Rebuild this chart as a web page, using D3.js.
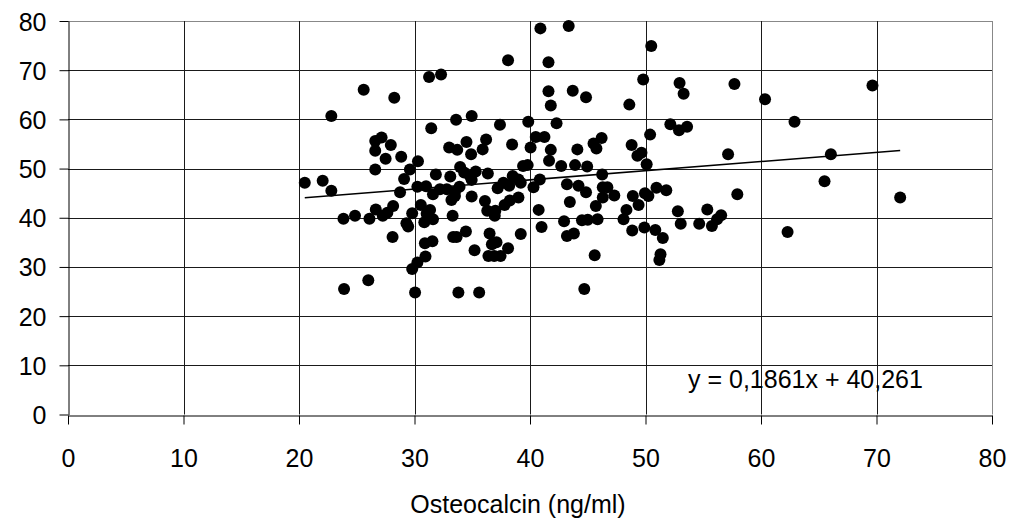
<!DOCTYPE html>
<html>
<head>
<meta charset="utf-8">
<script src="https://cdn.jsdelivr.net/npm/d3@7"></script>
<style>
  body { margin: 0; background: #fff; }
  text { font-family: "Liberation Sans", Arial, sans-serif; fill: #000; }
</style>
</head>
<body>
<svg id="chart" width="1010" height="519"></svg>
<script>
// osteocalcin (x) and the paired outcome value (y)
const osteocalcin = [
  20.5, 22.05, 22.8, 22.8, 23.85, 23.9, 24.85, 25.6, 26.0, 26.1,
  26.6, 26.6, 26.6, 26.65, 27.15, 27.25, 27.5, 27.65, 27.95, 28.1,
  28.15, 28.25, 28.75, 28.85, 29.1, 29.3, 29.45, 29.6, 29.8, 29.8,
  30.05, 30.25, 30.25, 30.3, 30.55, 30.85, 30.9, 30.95, 31.0, 31.05,
  31.26, 31.35, 31.45, 31.55, 31.6, 31.6, 31.85, 32.2, 32.3, 32.8,
  33.0, 33.1, 33.2, 33.3, 33.35, 33.5, 33.5, 33.6, 33.65, 33.7,
  33.8, 33.9, 33.95, 34.3, 34.45, 34.5, 34.9, 36.2, 35.9, 38.45,
  40.5, 41.25, 40.05, 41.8, 41.65, 44.1, 45.5, 46.2, 45.75, 48.8,
  49.3, 42.7, 43.9, 44.95, 39.4, 39.8, 34.8, 35.3, 36.35, 34.95,
  38.5, 39.0, 39.2, 37.7, 37.2, 38.2, 40.85, 40.3, 46.25, 43.2,
  44.2, 44.85, 46.3, 46.7, 46.3, 47.3, 48.9, 49.4, 48.35, 34.95,
  36.1, 37.8, 38.25, 39.0, 36.3, 37.0, 36.95, 43.45, 40.75, 45.7,
  42.95, 41.0, 44.5, 45.0, 45.85, 48.1, 48.85, 36.5, 39.2, 43.2,
  43.8, 36.7, 37.1, 35.2, 38.1, 36.4, 36.9, 37.45, 45.6, 35.6,
  44.7, 40.9, 43.35, 38.1, 41.6, 49.8, 41.6, 43.7, 44.85, 41.8,
  48.6, 34.95, 37.4, 39.85, 42.3, 50.5, 52.95, 53.3, 57.7, 60.35,
  62.9, 52.15, 52.9, 53.6, 50.4, 49.65, 50.1, 57.15, 50.95, 51.8,
  49.95, 50.25, 57.95, 52.8, 55.35, 53.05, 54.65, 55.75, 56.2, 56.55,
  49.9, 50.85, 51.5, 51.3, 51.2, 62.3, 69.65, 66.05, 65.5, 72.05
];
const outcome = [
  47.1, 47.5, 60.7, 45.5, 39.8, 25.5, 40.4, 66.0, 27.3, 39.8,
  55.6, 53.6, 49.8, 41.7, 56.3, 40.4, 52.0, 41.0, 54.8, 36.1,
  42.4, 64.4, 45.2, 52.4, 47.9, 38.9, 38.2, 49.8, 40.9, 29.6,
  24.8, 30.9, 46.3, 51.5, 42.6, 39.1, 34.8, 32.1, 46.4, 40.8,
  68.6, 41.6, 58.2, 35.2, 44.8, 39.7, 48.8, 45.8, 69.1, 45.8,
  54.3, 48.4, 43.6, 40.4, 36.1, 44.4, 45.3, 59.9, 36.1, 53.8,
  24.8, 46.3, 50.3, 49.2, 37.2, 55.4, 52.9, 55.9, 53.9, 54.9,
  56.4, 56.4, 54.3, 53.8, 51.6, 53.9, 55.1, 56.2, 54.1, 54.8,
  52.6, 50.5, 50.7, 50.4, 50.5, 50.7, 48.5, 49.4, 49.0, 47.7,
  48.5, 47.8, 47.1, 47.1, 46.0, 46.5, 47.8, 46.2, 48.8, 46.8,
  46.5, 45.2, 46.2, 46.2, 44.1, 44.5, 44.4, 42.6, 41.6, 44.3,
  43.4, 42.6, 43.5, 44.1, 41.4, 41.4, 40.4, 43.2, 41.6, 42.4,
  39.3, 38.1, 39.5, 39.6, 39.7, 39.7, 37.4, 36.8, 36.7, 36.3,
  36.8, 34.6, 35.0, 33.4, 33.8, 32.2, 32.2, 32.2, 32.4, 24.8,
  25.5, 78.5, 79.0, 72.0, 71.6, 68.1, 65.7, 65.8, 64.5, 62.8,
  63.0, 60.7, 58.9, 59.5, 59.2, 74.9, 67.4, 65.2, 67.2, 64.1,
  59.5, 59.0, 57.8, 58.5, 56.9, 53.2, 50.9, 52.9, 46.1, 45.6,
  45.0, 44.4, 44.8, 41.3, 41.7, 38.8, 38.8, 38.3, 39.7, 40.5,
  38.0, 37.5, 35.9, 32.6, 31.4, 37.1, 66.9, 52.9, 47.4, 44.1
];
const xTicks = [0, 10, 20, 30, 40, 50, 60, 70, 80];
const yTicks = [0, 10, 20, 30, 40, 50, 60, 70, 80];
const slope = 0.1861;
const intercept = 40.261;
const eqLabel = "y = 0,1861x + 40,261";
const xTitle = "Osteocalcin (ng/ml)";

const svg = d3.select("#chart");
const plotLeft = 68, plotRight = 992, plotTop = 21, plotBottom = 414.5;
const fontSize = "25px";

const x = d3.scaleLinear().domain([0, 80]).range([plotLeft, plotRight]);
const y = d3.scaleLinear().domain([0, 80]).range([plotBottom, plotTop]);

// grid
svg.append("g")
  .selectAll("line")
  .data(yTicks.slice(1))
  .join("line")
  .attr("x1", plotLeft).attr("x2", plotRight)
  .attr("y1", d => Math.round(y(d)) + 0.5)
  .attr("y2", d => Math.round(y(d)) + 0.5)
  .attr("stroke", d => d === 80 ? "#888" : "#1a1a1a")
  .attr("stroke-width", 1);

svg.append("g")
  .selectAll("line")
  .data(xTicks.slice(1))
  .join("line")
  .attr("x1", d => Math.round(x(d)) + 0.5)
  .attr("x2", d => Math.round(x(d)) + 0.5)
  .attr("y1", plotTop).attr("y2", plotBottom)
  .attr("stroke", d => d === 80 ? "#888" : "#1a1a1a")
  .attr("stroke-width", 1);

// axes
const xAxis = svg.append("g")
  .attr("transform", `translate(0,${Math.round(plotBottom) + 0.5})`)
  .call(d3.axisBottom(x).tickValues(xTicks).tickSize(9).tickSizeOuter(0).tickPadding(25));
const yAxis = svg.append("g")
  .attr("transform", `translate(${plotLeft + 0.5},0)`)
  .call(d3.axisLeft(y).tickValues(yTicks).tickSize(9).tickSizeOuter(0).tickPadding(13));

[xAxis, yAxis].forEach(g => {
  g.select(".domain").attr("stroke", "#000");
  g.selectAll(".tick line").attr("stroke", "#000");
  g.selectAll(".tick text").style("font-size", fontSize).attr("fill", "#000");
});
yAxis.selectAll(".tick text").attr("dy", "0.36em");

// points
svg.append("g")
  .selectAll("circle")
  .data(osteocalcin.map((v, i) => [v, outcome[i]]))
  .join("circle")
  .attr("cx", d => x(d[0]))
  .attr("cy", d => y(d[1]))
  .attr("r", 6)
  .attr("fill", "#000");

// linear trend
const xr = d3.extent(osteocalcin);
svg.append("line")
  .attr("x1", x(xr[0])).attr("y1", y(slope * xr[0] + intercept))
  .attr("x2", x(xr[1])).attr("y2", y(slope * xr[1] + intercept))
  .attr("stroke", "#000")
  .attr("stroke-width", 1.6);

svg.append("text")
  .attr("x", 688).attr("y", 388)
  .style("font-size", fontSize)
  .text(eqLabel);

svg.append("text")
  .attr("x", 518).attr("y", 513)
  .attr("text-anchor", "middle")
  .style("font-size", fontSize)
  .text(xTitle);
</script>
</body>
</html>
